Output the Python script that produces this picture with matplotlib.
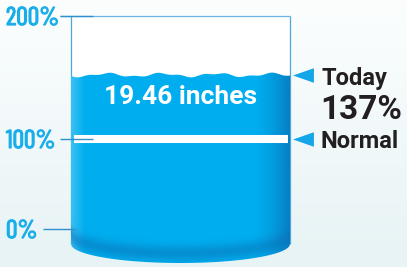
import numpy as np
import matplotlib
matplotlib.use("Agg")
import matplotlib.pyplot as plt
import matplotlib.patheffects as pe
from matplotlib.patches import Polygon, Rectangle
from matplotlib.colors import to_rgb

''' DATA '''

tick_values = [0, 100, 200]
tick_labels = ["0%", "100%", "200%"]
today_pct = 137
normal_pct = 100
today_inches = 19.46

# the gauge in the graphic is not drawn to a linear scale,
# so the percent axis goes through these knots (percent -> pixel row)
scale_pct = np.array([-42, 0, 100, 137, 200, 217])
scale_px = np.array([267, 229, 139, 75, 16, 0])


def fwd(v):
    return -np.interp(v, scale_pct, scale_px)


def inv(y):
    return np.interp(y, -scale_px, scale_pct)


def px2pct(p):
    return inv(-np.asarray(p, dtype=float))


''' FIGURE '''

fig = plt.figure(figsize=(4.07, 2.67), dpi=100)
ax = fig.add_axes([0, 0, 1, 1])
ax.set_yscale("function", functions=(fwd, inv))
ax.set_xlim(0, 407)
ax.set_ylim(-42, 217)
ax.axis("off")

# background
t = np.linspace(0, 1, 200)[:, None, None]
top_c = np.array(to_rgb("#fcfefe"))
bot_c = np.array(to_rgb("#e7f3f5"))
bg = top_c * (1 - t) + bot_c * t
bg = np.repeat(bg, 2, axis=1)
ax.imshow(bg, extent=[0, 1, 0, 1], transform=ax.transAxes, aspect="auto", zorder=0)

# cylinder geometry (x in pixels)
x_left, x_right = 71, 290
xc = (x_left + x_right) / 2
half = (x_right - x_left) / 2


def bottom_px(x):
    return 244 + 19 * np.sqrt(np.clip(1 - ((x - xc) / half) ** 2, 0, 1))


# empty part of the cylinder
ax.add_patch(Rectangle((x_left, px2pct(244)), x_right - x_left, 200 - px2pct(244),
                       facecolor="white", edgecolor="none", zorder=1))
ax.vlines([x_left, x_right], px2pct(244), 200, color="#4ea6da", lw=0.9, zorder=1.5)
ax.hlines(200, 60, x_right, color="#6db5e0", lw=0.9, zorder=1.5)

# water outline: wavy top, elliptic bottom
xs = np.linspace(x_left, x_right, 300)
level_px = -fwd(today_pct)
wave_px = level_px + 1.6 * np.sin((xs - x_left) / 55 * 2 * np.pi + 0.6) \
    + 0.8 * np.sin((xs - x_left) / 23 * 2 * np.pi)
top = px2pct(wave_px)
bot = px2pct(bottom_px(xs))
water = Polygon(np.column_stack([np.r_[xs, xs[::-1]], np.r_[top, bot[::-1]]]),
                closed=True, facecolor="none", edgecolor="none", zorder=2)
ax.add_patch(water)

# water shading
gx = np.linspace(x_left, x_right, 440)
gv = np.linspace(px2pct(267), today_pct + 6, 400)
gpy = -fwd(gv)
base = np.array(to_rgb("#00aeef"))
light = np.array(to_rgb("#3fc2f3"))
dark = np.array(to_rgb("#0a70b6"))
wl = np.clip(1 - (gx - x_left) / 13, 0, 1) * 0.9
wr = np.clip((gx - 252) / 38, 0, 1) ** 1.6 * 0.8
row = base * (1 - wl - wr)[:, None] + light * wl[:, None] + dark * wr[:, None]
img = np.repeat(row[None, :, :], len(gv), axis=0)
d = bottom_px(gx)[None, :] - gpy[:, None]
wb = (0.5 * np.exp(-((d - 9) / 8) ** 2))[:, :, None]
img = img * (1 - wb) + dark * wb
im = ax.imshow(img, extent=[x_left, x_right, gv[0], gv[-1]], origin="lower",
               aspect="auto", interpolation="bilinear", zorder=2)
im.set_clip_path(water)

# normal line
ax.hlines(normal_pct, 74, 288, color="white", lw=5.8, zorder=4)

# ticks and labels
tick_x0 = [43, 60, 60]
label_c = "#19aeea"
for v, lab, x0 in zip(tick_values, tick_labels, tick_x0):
    ax.hlines(v, x0, x0 + 33, color="#2f8fcf", lw=1.0, zorder=5)
    ax.annotate(lab, xy=(6, v), xytext=(0, -9), textcoords="offset pixels",
                ha="left", va="baseline", fontsize=18.5, color=label_c,
                family=["Barlow Condensed", "DejaVu Sans"], zorder=5,
                path_effects=[pe.withStroke(linewidth=0.9, foreground=label_c)])

# value in the water
ax.annotate(f"{today_inches:.2f} inches", xy=(xc, today_pct), xytext=(0, -22),
            textcoords="offset pixels", ha="center", va="center", fontsize=19,
            fontweight="bold", color="white", family=["Roboto", "DejaVu Sans"], zorder=6)

# arrows + right hand labels
arrow = [(-1, 0), (1, 0.7), (1, -0.7)]
ax.scatter([302.5, 302.5], [today_pct, normal_pct], marker=arrow, s=225,
           color="#14a6e9", linewidths=0, zorder=6)
txt = dict(ha="left", va="center", fontweight="bold", color="#231f20",
           family=["Roboto", "DejaVu Sans"], textcoords="offset pixels", zorder=6)
ax.annotate("Today", xy=(321, today_pct), xytext=(0, -4), fontsize=17, **txt)
ax.annotate(f"{today_pct}%", xy=(320, today_pct), xytext=(0, -35), fontsize=24, **txt)
ax.annotate("Normal", xy=(321, normal_pct), xytext=(0, -2), fontsize=17, **txt)

plt.savefig("out.png", dpi=100)
